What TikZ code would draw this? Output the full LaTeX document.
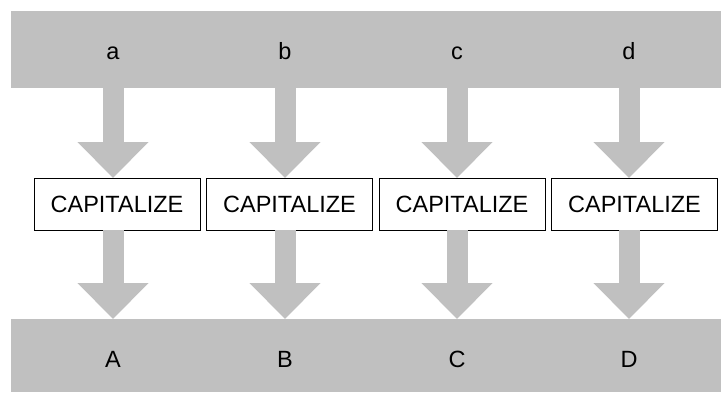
\documentclass[tikz,border=0pt]{standalone}
\usepackage{fontspec}
\setmainfont{Liberation Sans}
\usetikzlibrary{arrows.meta}
\definecolor{bandgray}{RGB}{192,192,192}

\begin{document}
\begin{tikzpicture}[x=1pt, y=-1pt,
    band/.style={fill=bandgray, inner sep=0pt, outer sep=0pt, minimum width=710pt},
    lbl/.style={anchor=base, font=\fontsize{23.5}{28}\selectfont},
    capbox/.style={draw, line width=1pt, fill=white, inner sep=0pt, outer sep=0pt,
        minimum width=166pt, minimum height=52pt, font=\fontsize{23.5}{28}\selectfont},
    fatarrow/.style={draw=bandgray, line width=21pt,
        -{Triangle[width=69pt, length=36pt]}}]
    \useasboundingbox (0,0) rectangle (721,392);

    % Bands
    \node[band, minimum height=77pt] (inband) at (366, 49.5) {};
    \node[band, minimum height=73pt] (outband) at (366, 355.5) {};

    % Columns
    \foreach \l/\u [count=\i from 0] in {a/A, b/B, c/C, d/D} {
        \node[lbl] (in\i) at (113+172*\i, 59) {\l};
        \node[capbox] (cap\i) at (117+172.5*\i, 204) {CAPITALIZE};
        \node[lbl] (out\i) at (113+172*\i, 367) {\u};
        \draw[fatarrow] (in\i |- inband.south) -- (in\i |- cap\i.north);
        \draw[fatarrow] (out\i |- cap\i.south) -- (out\i |- outband.north);
    }
\end{tikzpicture}
\end{document}
